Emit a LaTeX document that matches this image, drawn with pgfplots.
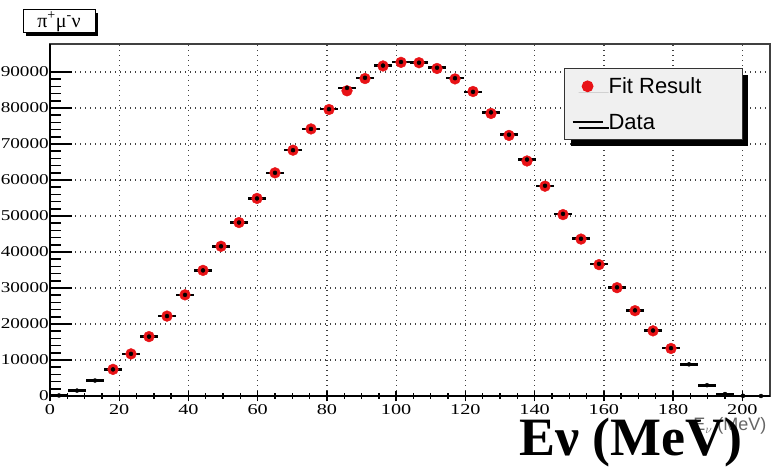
\documentclass[border=0pt]{standalone}
\usepackage{fontspec}
\setmainfont{Liberation Serif}
\newfontfamily\tickfont[FakeStretch=1.35]{Liberation Serif}
\newfontfamily\ytickfont[FakeStretch=1.28]{Liberation Serif}
\newfontfamily\legfont{Liberation Sans}
\usepackage{pgfplots}
\usepackage{pgfplotstable}
\pgfplotsset{compat=1.18}
\usetikzlibrary{shadows}
\definecolor{fitred}{RGB}{232,18,22}
\pgfplotsset{
  dotlegend/.style={legend image code/.code={\path (0bp,0bp) -- (30bp,0bp); \draw[mark repeat=2,mark phase=2,##1] plot coordinates {(0bp,0bp) (15bp,0bp) (30bp,0bp)};}},
  seglegend/.style={legend image code/.code={\draw[##1] (0bp,0bp) -- (30bp,0bp);}},
}

\pgfplotstableread{
x y
18.2 7400
23.4 11700
28.6 16500
33.8 22200
39.0 28100
44.2 34900
49.4 41600
54.6 48200
59.8 54900
65.0 62000
70.2 68300
75.4 74200
80.6 79600
85.8 84800
91.0 88200
96.2 91700
101.4 92700
106.6 92600
111.8 91000
117.0 88100
122.2 84600
127.4 78500
132.6 72400
137.8 65300
143.0 58300
148.2 50400
153.4 43600
158.6 36500
163.8 30100
169.0 23700
174.2 18100
179.4 13200
}\fittable

\pgfplotstableread{
x y
2.6 150
7.8 1500
13.0 4300
18.2 7400
23.4 11700
28.6 16500
33.8 22200
39.0 28100
44.2 34900
49.4 41600
54.6 48200
59.8 54900
65.0 62000
70.2 68300
75.4 74200
80.6 79700
85.8 85600
91.0 88400
96.2 91800
101.4 92800
106.6 92600
111.8 91200
117.0 88300
122.2 84500
127.4 78800
132.6 72600
137.8 65700
143.0 58400
148.2 50600
153.4 43700
158.6 36700
163.8 30200
169.0 23800
174.2 18200
179.4 13300
184.6 8800
189.8 3000
195.0 550
200.2 50
205.4 0
}\datatable

\begin{document}
\begin{tikzpicture}
\useasboundingbox (0,0) rectangle (774bp,469bp);
\begin{axis}[
  at={(50bp,73bp)}, anchor=south west,
  scale only axis, width=720bp, height=352bp,
  xmin=0, xmax=208, ymin=0, ymax=97800,
  axis line style={line width=1.4bp, black!75},
  xtick={0,20,...,200}, xticklabel=\empty, xtick style={draw=none},
  ytick={0,10000,...,90000}, minor y tick num=4,
  ytick pos=left,
  major tick length=21.6bp, minor tick length=11bp,
  ytick style={line width=1.6bp, black},
  every minor tick/.append style={line width=1.2bp, black},
  scaled y ticks=false,
  yticklabel style={font=\ytickfont\fontsize{15bp}{18bp}\selectfont, inner xsep=1bp},
  yticklabel style={/pgf/number format/.cd, fixed, 1000 sep={}, assume math mode=true},
  grid=major,
  major grid style={line width=1.3bp, black!75, dash pattern=on 1.4bp off 3.6bp},
  legend style={at={(0.714,0.9315)}, anchor=north west,
    fill=black!6, draw=black!80, line width=1bp,
    font=\legfont\fontsize{22bp}{26bp}\selectfont,
    inner xsep=7bp, inner ysep=7bp, row sep=15bp,
    drop shadow={shadow xshift=6bp, shadow yshift=-6bp, fill=black, opacity=1}},
  legend cell align=left,
]
\addplot[only marks, mark=*, mark size=5.4bp, fitred, draw=none, dotlegend]
  table[x=x,y=y] {\fittable};
\addlegendentry{\hspace*{3bp}Fit Result\hspace*{32bp}}
\addplot[only marks, mark=none, forget plot,
  error bars/.cd, x dir=both, x fixed=2.6, error mark=none,
  error bar style={line width=2.6bp, black, solid}]
  table[x=x,y=y] {\datatable};
\addlegendimage{black, line width=2bp, seglegend}
\addlegendentry{\hspace*{3bp}Data}
\end{axis}
\begin{axis}[
  at={(50bp,73bp)}, anchor=south west,
  scale only axis, width=720bp, height=352bp,
  xmin=0, xmax=208, ymin=0, ymax=97800,
  axis x line=bottom, axis y line=left,
  axis line style={line width=2.6bp, black, -},
  ytick=\empty,
  xtick={0,20,...,200}, minor x tick num=3,
  major tick length=10.6bp, minor tick length=5.3bp,
  xtick style={line width=1.4bp, black},
  every minor tick/.append style={line width=1.2bp, black},
  xticklabel style={font=\tickfont\fontsize{15bp}{18bp}\selectfont, inner ysep=3bp},
  xticklabel style={/pgf/number format/assume math mode=true},
]
\end{axis}
\node[draw=black, line width=1bp, fill=white,
  drop shadow={shadow xshift=3bp, shadow yshift=-3bp, fill=black, opacity=1},
  minimum width=72bp, minimum height=23bp, inner sep=0pt,
  font=\fontsize{20bp}{22bp}\selectfont] at (59bp,447.5bp)
  {π\textsuperscript{+}μ\textsuperscript{-}ν};
\node[anchor=east, text=black!60, font=\legfont\fontsize{18bp}{21bp}\selectfont]
  at (770bp,43bp) {E$_\nu$ (MeV)};
\node[anchor=base, font=\bfseries\fontsize{54bp}{60bp}\selectfont, inner sep=0pt]
  at (631bp,14bp) {Eν (MeV)};
\end{tikzpicture}
\end{document}
